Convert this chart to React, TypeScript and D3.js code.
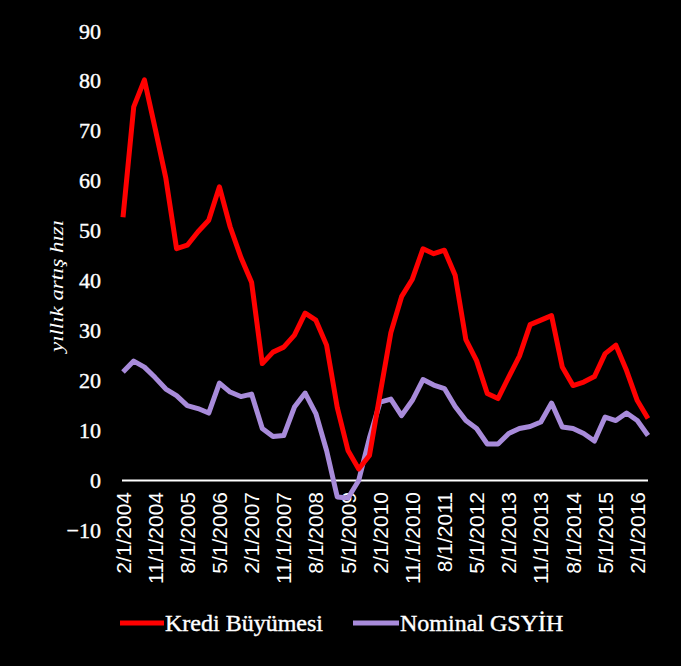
import React, { useEffect } from "react";
import * as d3 from "d3";

const quarters: string[] = [
  "2/1/2004", "5/1/2004", "8/1/2004", "11/1/2004",
  "2/1/2005", "5/1/2005", "8/1/2005", "11/1/2005",
  "2/1/2006", "5/1/2006", "8/1/2006", "11/1/2006",
  "2/1/2007", "5/1/2007", "8/1/2007", "11/1/2007",
  "2/1/2008", "5/1/2008", "8/1/2008", "11/1/2008",
  "2/1/2009", "5/1/2009", "8/1/2009", "11/1/2009",
  "2/1/2010", "5/1/2010", "8/1/2010", "11/1/2010",
  "2/1/2011", "5/1/2011", "8/1/2011", "11/1/2011",
  "2/1/2012", "5/1/2012", "8/1/2012", "11/1/2012",
  "2/1/2013", "5/1/2013", "8/1/2013", "11/1/2013",
  "2/1/2014", "5/1/2014", "8/1/2014", "11/1/2014",
  "2/1/2015", "5/1/2015", "8/1/2015", "11/1/2015",
  "2/1/2016", "5/1/2016",
];

const tickLabels: string[] = [
  "2/1/2004", "11/1/2004", "8/1/2005", "5/1/2006", "2/1/2007", "11/1/2007",
  "8/1/2008", "5/1/2009", "2/1/2010", "11/1/2010", "8/1/2011", "5/1/2012",
  "2/1/2013", "11/1/2013", "8/1/2014", "5/1/2015", "2/1/2016",
];

const krediBuyumesi: number[] = [
  52.7, 74.8, 80.2, 70.5, 60.5, 46.4, 47.1, 49.8, 52.1, 58.8,
  50.8, 44.7, 39.7, 23.4, 25.7, 26.7, 29.1, 33.5, 32.1, 27.1,
  14.6, 6.0, 2.3, 5.0, 17.4, 29.6, 36.8, 40.3, 46.4, 45.4,
  46.1, 41.1, 28.2, 24.0, 17.4, 16.4, 20.7, 24.9, 31.2, 32.1,
  33.0, 22.7, 19.0, 19.7, 20.8, 25.4, 27.1, 22.0, 16.0, 12.4,
];

const nominalGsyih: number[] = [
  21.7, 23.9, 22.7, 20.6, 18.3, 17.0, 15.0, 14.4, 13.5, 19.5,
  17.7, 16.8, 17.3, 10.4, 8.8, 9.0, 14.7, 17.5, 13.4, 6.0,
  -3.3, -3.5, 0.0, 8.5, 15.7, 16.3, 13.0, 16.0, 20.2, 19.1,
  18.4, 14.8, 12.0, 10.4, 7.3, 7.3, 9.4, 10.4, 10.8, 11.7,
  15.5, 10.7, 10.4, 9.4, 7.9, 12.7, 12.0, 13.5, 12.0, 9.0,
];

const yTicks: number[] = [-10, 0, 10, 20, 30, 40, 50, 60, 70, 80, 90];

const seriesNames: string[] = ["Kredi Büyümesi", "Nominal GSYİH"];
const seriesColors: string[] = ["#ff0000", "#a88bda"];

const W = 681;
const H = 666;

export default function App() {
  useEffect(() => {
    document.body.style.margin = "0";
    document.body.style.background = "#000";
  }, []);

  const x = d3.scalePoint<string>().domain(quarters).range([123, 648]);
  const y = d3.scaleLinear().domain([-10, 90]).range([530.4, 31]);

  const line = d3
    .line<number>()
    .x((_, i) => x(quarters[i]) as number)
    .y((d) => y(d));

  const serif = "'Liberation Serif', 'Times New Roman', serif";
  const sans = "'Liberation Sans', Arial, sans-serif";

  return (
    <svg
      width={W}
      height={H}
      style={{ position: "absolute", left: 0, top: 0, background: "#000", display: "block" }}
    >
      <rect x={0} y={0} width={W} height={H} fill="#000" />

      {/* y axis labels */}
      {yTicks.map((t) => (
        <text
          key={t}
          x={101}
          y={y(t)}
          textAnchor="end"
          dominantBaseline="central"
          fill="#fff"
          stroke="#fff"
          strokeWidth={0.4}
          fontFamily={serif}
          fontSize={22}
        >
          {t < 0 ? "\u2212" + Math.abs(t) : t}
        </text>
      ))}

      {/* y title */}
      <text
        transform={`translate(56, 286) rotate(-90)`}
        textAnchor="middle"
        dominantBaseline="central"
        fill="#fff"
        fontFamily={serif}
        fontStyle="italic"
        fontSize={19}
        textLength={132}
        lengthAdjust="spacingAndGlyphs"
      >
        yıllık artış hızı
      </text>

      {/* zero line */}
      <line x1={122} x2={648} y1={y(0)} y2={y(0)} stroke="#fff" strokeWidth={2} />

      {/* x tick labels */}
      {tickLabels.map((lab) => (
        <text
          key={lab}
          transform={`translate(${x(lab)}, 492) rotate(-90)`}
          textAnchor="end"
          dominantBaseline="central"
          fill="#fff"
          fontFamily={sans}
          fontSize={21}
        >
          {lab}
        </text>
      ))}

      {/* series */}
      <path
        d={line(nominalGsyih) || ""}
        fill="none"
        stroke={seriesColors[1]}
        strokeWidth={5}
        strokeLinejoin="round"
      />
      <path
        d={line(krediBuyumesi) || ""}
        fill="none"
        stroke={seriesColors[0]}
        strokeWidth={5}
        strokeLinejoin="round"
      />

      {/* legend */}
      <line x1={120} x2={164} y1={623} y2={623} stroke={seriesColors[0]} strokeWidth={5} />
      <text x={165} y={623} dominantBaseline="central" fill="#fff" stroke="#fff" strokeWidth={0.4} fontFamily={serif} fontSize={24}>
        {seriesNames[0]}
      </text>
      <line x1={353} x2={399} y1={623} y2={623} stroke={seriesColors[1]} strokeWidth={5} />
      <text x={400} y={623} dominantBaseline="central" fill="#fff" stroke="#fff" strokeWidth={0.4} fontFamily={serif} fontSize={24}>
        {seriesNames[1]}
      </text>
    </svg>
  );
}
